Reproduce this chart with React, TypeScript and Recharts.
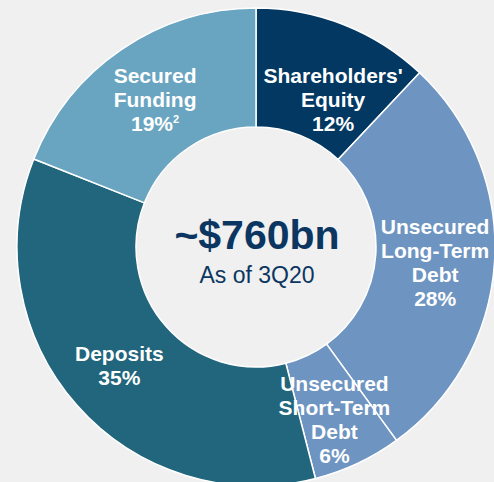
import React from 'react';
import { PieChart, Pie, Cell } from 'recharts';

const categories = [
  "Shareholders' Equity",
  'Unsecured Long-Term Debt',
  'Unsecured Short-Term Debt',
  'Deposits',
  'Secured Funding',
];
const shares = [12, 28, 6, 35, 19];
const labelLines = [
  ["Shareholders'", 'Equity'],
  ['Unsecured', 'Long-Term', 'Debt'],
  ['Unsecured', 'Short-Term', 'Debt'],
  ['Deposits'],
  ['Secured', 'Funding'],
];
const footnotes = ['', '', '', '', '2'];
const colors = ['#023862', '#6e94c1', '#6e94c1', '#21667c', '#69a5c0'];
const totalLabel = '~$760bn';
const asOfLabel = 'As of 3Q20';

const data = categories.map((name, i) => ({
  name,
  value: shares[i],
  lines: labelLines[i],
  note: footnotes[i],
}));

const RADIAN = Math.PI / 180;
const nudges = [
  [11, 19],
  [0, 4],
  [2, 10],
  [-2, 0],
  [0, 1],
];

const renderLabel = (props: any) => {
  const { cx, cy, midAngle, innerRadius, outerRadius, index, payload } = props;
  const r = (innerRadius + outerRadius) / 2;
  const [dx, dy] = nudges[index] || [0, 0];
  const x = cx + r * Math.cos(-midAngle * RADIAN) + dx;
  const y = cy + r * Math.sin(-midAngle * RADIAN) + dy;
  const d = payload && payload.lines ? payload : data[index];
  const lines: string[] = [...d.lines, `${d.value}%`];
  const lh = 24;
  return (
    <g>
      {lines.map((ln, i) => {
        const ly = y + (i - (lines.length - 1) / 2) * lh;
        const isLast = i === lines.length - 1;
        return (
          <text
            key={i}
            x={x}
            y={ly}
            textAnchor="middle"
            dominantBaseline="central"
            fill="#ffffff"
            fontFamily="'Liberation Sans', Arial, sans-serif"
            fontWeight="bold"
            fontSize={21}
          >
            {ln}
            {isLast && d.note ? (
              <tspan fontSize={11} dy={-5}>
                {d.note}
              </tspan>
            ) : null}
          </text>
        );
      })}
    </g>
  );
};

export default function App() {
  return (
    <div
      style={{
        position: 'absolute',
        left: 0,
        top: 0,
        width: 494,
        height: 482,
        background: '#f0f0f0',
        overflow: 'hidden',
      }}
    >
      <PieChart width={494} height={482} margin={{ top: 0, right: 0, bottom: 0, left: 0 }}>
        <Pie
          data={data}
          dataKey="value"
          nameKey="name"
          cx={256}
          cy={247}
          innerRadius={120}
          outerRadius={239}
          startAngle={90}
          endAngle={-270}
          stroke="#ffffff"
          strokeWidth={1.5}
          label={renderLabel}
          labelLine={false}
          isAnimationActive={false}
        >
          {data.map((d, i) => (
            <Cell key={d.name} fill={colors[i]} />
          ))}
        </Pie>
        <text
          x={257}
          y={235}
          textAnchor="middle"
          dominantBaseline="central"
          fill="#0b3661"
          fontFamily="'Liberation Sans', Arial, sans-serif"
          fontWeight="bold"
          fontSize={41}
        >
          {totalLabel}
        </text>
        <text
          x={257}
          y={275}
          textAnchor="middle"
          dominantBaseline="central"
          fill="#0b3661"
          fontFamily="'Liberation Sans', Arial, sans-serif"
          fontSize={23}
        >
          {asOfLabel}
        </text>
      </PieChart>
    </div>
  );
}
